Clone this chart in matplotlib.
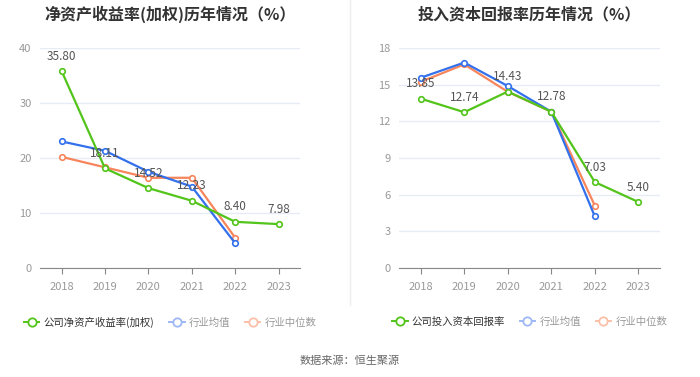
import matplotlib
matplotlib.use("Agg")
import numpy as np
from matplotlib import pyplot as plt
from matplotlib.lines import Line2D

plt.rcParams["font.family"] = ["Noto Sans CJK SC", "DejaVu Sans"]

years = ["2018", "2019", "2020", "2021", "2022", "2023"]

roe_company = [35.80, 18.11, 14.52, 12.23, 8.40, 7.98]
roe_mean = [23.0, 21.3, 17.5, 14.8, 4.5]
roe_median = [20.2, 18.3, 16.4, 16.4, 5.5]

roic_company = [13.85, 12.74, 14.43, 12.78, 7.03, 5.40]
roic_mean = [15.56, 16.8, 14.88, 12.78, 4.22]
roic_median = [15.23, 16.65, 14.41, 12.78, 5.1]

GREEN = "#52c41a"
BLUE = "#3370eb"
ORANGE = "#f7855c"
GRID = "#e6ebf5"
TICK = "#999999"


def draw_panel(ax, title, company, mean, median, ymax, yticks, company_label):
    x = np.arange(len(years))
    kw = dict(linewidth=1.6, marker="o", markersize=4, markerfacecolor="white", markeredgewidth=1.2)
    ax.plot(x[:len(median)], median, color=ORANGE, zorder=3, **kw)
    ax.plot(x[:len(mean)], mean, color=BLUE, zorder=4, **kw)
    ax.plot(x, company, color=GREEN, zorder=5, **kw)
    for xi, v in zip(x, company):
        ax.annotate(f"{v:.2f}", (xi, v), xytext=(0, 6), textcoords="offset points",
                    ha="center", va="bottom", fontsize=8.5, color="#555555", zorder=6)

    ax.set_xlim(-0.5, len(years) - 0.5)
    ax.set_ylim(0, ymax)
    ax.set_yticks(yticks)
    ax.set_xticks(x)
    ax.set_xticklabels(years)
    ax.tick_params(axis="both", colors=TICK, labelsize=8, length=0, pad=6)
    ax.tick_params(axis="x", length=4, color="#888888")
    ax.grid(axis="y", color=GRID, linewidth=1)
    ax.set_axisbelow(True)
    for side in ("top", "right", "left"):
        ax.spines[side].set_visible(False)
    ax.spines["bottom"].set_color("#888888")

    box = ax.get_position()
    fig.text(box.x0 + box.width / 2, 0.962, title, ha="center", va="center",
             fontsize=11.5, fontweight="bold", color="#333333")

    lkw = dict(linewidth=1.4, marker="o", markersize=6, markerfacecolor="white", markeredgewidth=1.3)
    handles = [
        Line2D([], [], color=GREEN, **lkw),
        Line2D([], [], color="#9db8f5", **lkw),
        Line2D([], [], color="#fbbfa8", **lkw),
    ]
    leg = ax.legend(handles, [company_label, "行业均值", "行业中位数"], loc="center",
                    bbox_to_anchor=(0.5, -0.245), ncol=3, frameon=False, fontsize=7.5,
                    handlelength=1.5, columnspacing=1.4, handletextpad=0.4)
    for txt, c in zip(leg.get_texts(), ["#333333", "#999999", "#999999"]):
        txt.set_color(c)


fig = plt.figure(figsize=(7.0, 3.77), dpi=100)
ax1 = fig.add_axes([0.057, 0.289, 0.372, 0.584])
ax2 = fig.add_axes([0.570, 0.289, 0.373, 0.584])

draw_panel(ax1, "净资产收益率(加权)历年情况（%）", roe_company, roe_mean, roe_median,
           40, [0, 10, 20, 30, 40], "公司净资产收益率(加权)")
draw_panel(ax2, "投入资本回报率历年情况（%）", roic_company, roic_mean, roic_median,
           18, [0, 3, 6, 9, 12, 15, 18], "公司投入资本回报率")

fig.add_artist(Line2D([0.5, 0.5], [0.19, 1.0], color="#eeeeee", linewidth=1))
fig.text(0.5, 0.042, "数据来源：恒生聚源", ha="center", va="center", fontsize=8, color="#666666")

fig.savefig("out.png", dpi=100)
plt.close(fig)
